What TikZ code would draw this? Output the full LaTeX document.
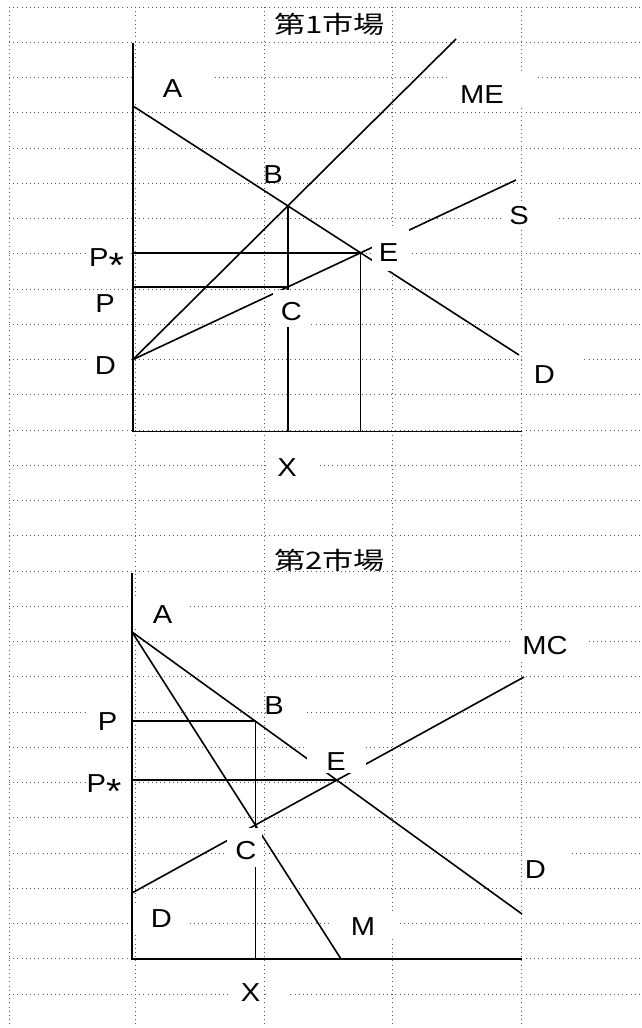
\documentclass[tikz,border=0pt]{standalone}
\usepackage{graphicx}
\usepackage{fontspec}
\setmainfont{Liberation Sans}
\newfontfamily\jpfont{Noto Sans CJK JP}
\newcommand{\stretchx}[1]{\scalebox{1.12}[1]{#1}}
\newcommand{\pstar}{\stretchx{P\raisebox{-0.42em}[0pt][0pt]{\scalebox{1.35}{*}}}}
\begin{document}
\begin{tikzpicture}[x=1pt,y=-1pt,
  gridline/.style={line width=0.9pt, black!65, dash pattern=on 1pt off 3.2pt},
  curve/.style={line width=1.6pt},
  axis/.style={line width=1.8pt},
  lbl/.style={font=\fontsize{26}{26}\selectfont, inner sep=0pt},
  ttl/.style={font=\jpfont\fontsize{24}{24}\selectfont, inner sep=0pt},
  mask/.style={fill=white}]
\useasboundingbox (0,0) rectangle (642,1028);
\fill[white] (0,0) rectangle (642,1028);
% grid
\foreach \k in {0,...,28} \draw[gridline] (9,{7+35.25*\k}) -- (642,{7+35.25*\k});
\foreach \x in {9,135,264,392,521} \draw[gridline] (\x,7) -- (\x,1028);

% ---------- first market ----------
\coordinate (O1) at (133,431.5);
\coordinate (Y1) at (133,43);
\coordinate (X1) at (522,431.5);
\coordinate (A1) at (133,106);
\coordinate (DD1) at (519,355);
\coordinate (D1) at (133,359.5);
\coordinate (ME1) at (456,39);
\coordinate (S1) at (516,180);
\coordinate (B1) at (intersection of A1--DD1 and D1--ME1);
\coordinate (E1) at (intersection of A1--DD1 and D1--S1);
\coordinate (B1x) at (B1 |- O1);
\coordinate (C1) at (intersection of B1--B1x and D1--S1);
\coordinate (E1x) at (E1 |- O1);

\draw[axis] (Y1) -- (O1) -- (X1);
\draw[curve] (A1) -- (DD1);
\draw[curve] (D1) -- (ME1);
\draw[curve] (D1) -- (S1);
\draw[curve] (E1 -| O1) -- (E1) -- (E1x);
\draw[curve] (C1 -| O1) -- (C1);
\draw[curve] (B1) -- (B1x);

% ---------- second market ----------
\coordinate (O2) at (132,959);
\coordinate (Y2) at (132,573);
\coordinate (X2) at (522,959);
\coordinate (A2) at (132,632);
\coordinate (DD2) at (522,914);
\coordinate (MR2) at (341,959);
\coordinate (D2) at (132,893);
\coordinate (MC2) at (524,677);
\coordinate (C2) at (intersection of A2--MR2 and D2--MC2);
\coordinate (C2t) at (C2 |- Y2);
\coordinate (B2) at (intersection of A2--DD2 and C2--C2t);
\coordinate (E2) at (intersection of A2--DD2 and D2--MC2);
\coordinate (B2x) at (B2 |- O2);

\draw[axis] (Y2) -- (O2) -- (X2);
\draw[curve] (A2) -- (DD2);
\draw[curve] (A2) -- (MR2);
\draw[curve] (D2) -- (MC2);
\draw[curve] (B2 -| O2) -- (B2) -- (B2x);
\draw[curve] (E2 -| O2) -- (E2);

% ---------- label masks ----------
\fill[mask] (135,70) rectangle (213,100);
\fill[mask] (450,72) rectangle (536,108);
\fill[mask] (503,204) rectangle (559,229);
\fill[mask] (372,228) rectangle (409,271);
\fill[mask] (88,243) rectangle (131,270);
\fill[mask] (88,294) rectangle (131,314);
\fill[mask] (273,290) rectangle (310,327);
\fill[mask] (88,350) rectangle (131,380);
\fill[mask] (524,355) rectangle (581,390);
\fill[mask] (266,455) rectangle (317,482);

\fill[mask] (135,598) rectangle (186,626);
\fill[mask] (512,632) rectangle (587,660);
\fill[mask] (266,694) rectangle (305,719);
\fill[mask] (88,708) rectangle (130,735);
\fill[mask] (307,742) rectangle (366,773);
\fill[mask] (86,770) rectangle (130,797);
\fill[mask] (227,828) rectangle (262,867);
\fill[mask] (522,850) rectangle (571,885);
\fill[mask] (135,905) rectangle (186,935);
\fill[mask] (332,912) rectangle (399,938);
\fill[mask] (231,980) rectangle (262,1006);
\fill[mask] (266,980) rectangle (289,1006);

% ---------- labels ----------
\node[ttl] (t1) at (329.5,24) {\scalebox{1.3}[1]{第1市場}};
\node[lbl] (la1) at (172.5,88.5) {\stretchx{A}};
\node[lbl] (lme) at (482,95) {\stretchx{ME}};
\node[lbl] (lb1) at (273,174.5) {\stretchx{B}};
\node[lbl] (ls) at (519,216) {\stretchx{S}};
\node[lbl] (le1) at (388.5,252.5) {\stretchx{E}};
\node[lbl] (lps1) at (106.5,257.5) {\pstar};
\node[lbl] (lp1) at (105,303.5) {\stretchx{P}};
\node[lbl] (lc1) at (291.5,311.5) {\stretchx{C}};
\node[lbl] (ld1) at (105.5,366) {\stretchx{D}};
\node[lbl] (ld1r) at (544.5,375) {\stretchx{D}};
\node[lbl] (lx1) at (287,468) {\stretchx{X}};

\node[ttl] (t2) at (329.5,560) {\scalebox{1.3}[1]{第2市場}};
\node[lbl] (la2) at (162.5,615) {\stretchx{A}};
\node[lbl] (lmc) at (545,645.5) {\stretchx{MC}};
\node[lbl] (lb2) at (274,706) {\stretchx{B}};
\node[lbl] (lp2) at (107.5,721.5) {\stretchx{P}};
\node[lbl] (le2) at (336,762) {\stretchx{E}};
\node[lbl] (lps2) at (104,783.5) {\pstar};
\node[lbl] (lc2) at (246,851) {\stretchx{C}};
\node[lbl] (ld2r) at (535.5,870) {\stretchx{D}};
\node[lbl] (ld2) at (161.5,919) {\stretchx{D}};
\node[lbl] (lm) at (363,926.5) {\stretchx{M}};
\node[lbl] (lx2) at (250.5,993) {\stretchx{X}};
\end{tikzpicture}
\end{document}
